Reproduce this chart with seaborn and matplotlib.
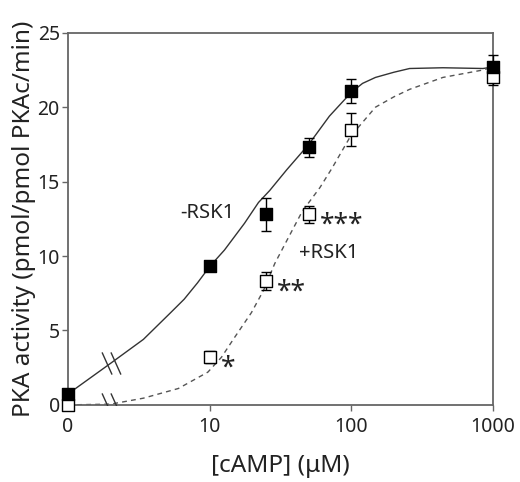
import matplotlib
matplotlib.use('Agg')
import matplotlib.pyplot as plt
from matplotlib.path import Path
import seaborn as sns

# measured points (0 uM is drawn at the left edge of the log axis)
conc = [0, 10, 25, 50, 100, 1000]
minus_rsk1 = [0.74, 9.35, 12.8, 17.3, 21.1, 22.7]
minus_rsk1_err = [0.0, 0.0, 1.1, 0.65, 0.8, 0.8]
plus_rsk1 = [0.0, 3.2, 8.3, 12.8, 18.5, 22.0]
plus_rsk1_err = [0.0, 0.4, 0.6, 0.55, 1.1, 0.5]
stars = ['', '*', '**', '***', '', '']

# fitted curves (x in display units, 1 == "0")
fit_x_minus = [1, 2, 3.4, 5.3, 6.6, 8.2, 10, 12.7, 17.6, 22.1, 26.5, 35, 50,
               70, 100, 120, 148, 200, 258, 443, 850, 1000]
fit_y_minus = [0.74, 2.8, 4.4, 6.2, 7.1, 8.2, 9.3, 10.4, 12.2, 13.6, 14.4,
               15.8, 17.5, 19.4, 21.0, 21.6, 22.0, 22.35, 22.6, 22.65, 22.6,
               22.7]
fit_x_plus = [1, 2, 3.4, 6.0, 9.7, 12.1, 14.9, 19.7, 24, 28.8, 36.2, 45, 60,
              73, 98, 148, 200, 258, 443, 850, 1000]
fit_y_plus = [0.0, 0.05, 0.45, 1.1, 2.2, 3.2, 4.5, 6.2, 7.7, 9.5, 11.3, 13.0,
              14.6, 15.9, 18.0, 20.0, 20.7, 21.2, 22.0, 22.5, 22.7]
break_idx = 1  # axis break sits at the second curve point

xticks = [1, 10, 100, 1000]
xtick_labels = ['0', '10', '100', '1000']
yticks = [0, 5, 10, 15, 20, 25]

ZERO_POS = 1


def main():
    sns.set_style('ticks')
    plt.rcParams['font.family'] = ['Noto Sans', 'DejaVu Sans']

    fig = plt.figure(figsize=(5.2, 4.82), dpi=100)
    ax = fig.add_axes([0.131, 0.160, 0.817, 0.772])

    xpos = [ZERO_POS if c == 0 else c for c in conc]

    sns.lineplot(x=fit_x_minus, y=fit_y_minus, sort=False, color='#333333',
                 linewidth=1.0, ax=ax, zorder=2)
    sns.lineplot(x=fit_x_plus, y=fit_y_plus, sort=False, color='#555555',
                 linewidth=1.0, ax=ax, zorder=2)
    ax.lines[-1].set_linestyle((0, (3.5, 3)))

    for vals, errs in [(minus_rsk1, minus_rsk1_err), (plus_rsk1, plus_rsk1_err)]:
        ax.errorbar(xpos, vals, yerr=errs, fmt='none', ecolor='black',
                    elinewidth=1.0, capsize=3.5, capthick=1.0, zorder=3,
                    clip_on=False)

    sns.scatterplot(x=xpos, y=plus_rsk1, marker='s', s=85, color='white',
                    edgecolor='black', linewidth=1.0, ax=ax, zorder=4,
                    clip_on=False)
    sns.scatterplot(x=xpos, y=minus_rsk1, marker='s', s=85, color='black',
                    edgecolor='black', linewidth=1.0, ax=ax, zorder=5,
                    clip_on=False)

    # axis break marks on both curves
    brk = Path([(-0.85, 1.0), (0.05, -1.0), (-0.05, 1.0), (0.85, -1.0)],
               [Path.MOVETO, Path.LINETO, Path.MOVETO, Path.LINETO])
    ax.plot([fit_x_minus[break_idx], fit_x_plus[break_idx]],
            [fit_y_minus[break_idx], fit_y_plus[break_idx]],
            linestyle='none', marker=brk, markersize=16, markeredgewidth=1.0,
            markeredgecolor='#333333', zorder=3)

    for x, y, s in zip(xpos, plus_rsk1, stars):
        if s:
            ax.annotate(s, (x, y), xytext=(8, -13), textcoords='offset points',
                        fontsize=19, ha='left', va='baseline',
                        color='#222222')

    ax.text(15, 12.9, '-RSK1', fontsize=14.5, ha='right', va='center',
            color='#222222')
    ax.text(43, 10.2, '+RSK1', fontsize=14.5, ha='left', va='center',
            color='#222222')

    ax.set_xscale('log')
    ax.set_xlim(1, 1000)
    ax.set_ylim(0, 25)
    ax.set_xticks(xticks)
    ax.set_xticklabels(xtick_labels)
    ax.minorticks_off()
    ax.set_yticks(yticks)

    for side in ['left', 'right', 'top', 'bottom']:
        ax.spines[side].set_visible(True)
        ax.spines[side].set_color('#666666')
        ax.spines[side].set_linewidth(1.3)
    ax.tick_params(axis='both', length=4, width=1.0, color='#666666',
                   labelsize=14, labelcolor='#222222', pad=2)
    ax.tick_params(axis='x', pad=5)

    ax.set_xlabel('[cAMP] (\u03bcM)', fontsize=17.5, color='#222222',
                  labelpad=12)
    ax.set_ylabel('PKA activity (pmol/pmol PKAc/min)', fontsize=17.5,
                  color='#222222', labelpad=1)

    fig.savefig('out.png', dpi=100)


if __name__ == '__main__':
    main()
